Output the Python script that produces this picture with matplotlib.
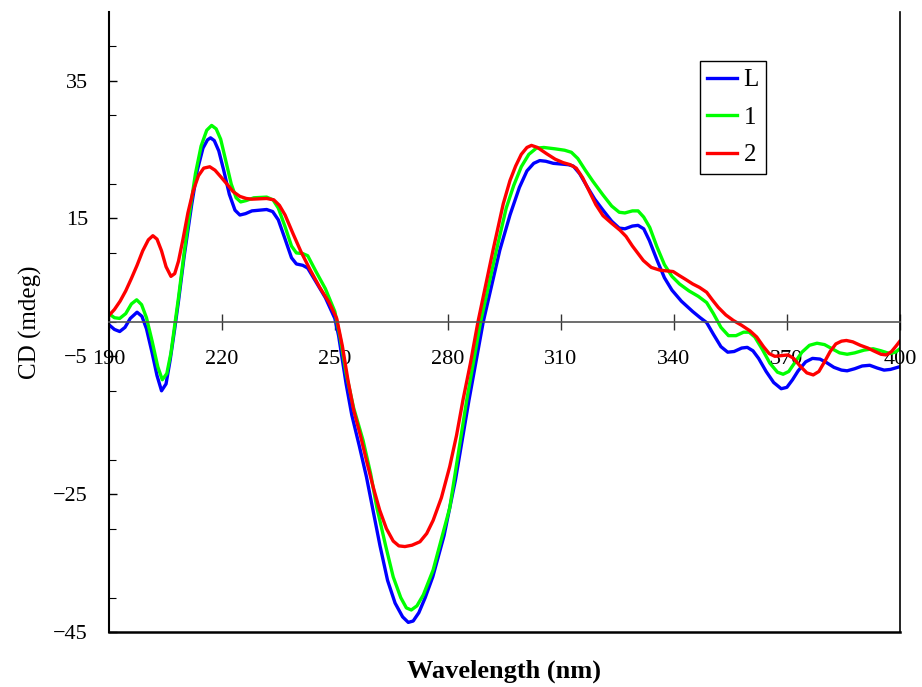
import matplotlib
matplotlib.use('Agg')
import matplotlib.pyplot as plt
from matplotlib.ticker import MultipleLocator

plt.rcParams['font.family'] = ['Liberation Serif', 'DejaVu Serif']

# CD spectra (wavelength in nm, CD in mdeg)
wl_L = [190, 191.5, 192.9, 194.3, 195.7, 197.5, 198.8, 200, 201.5, 202.8, 204, 205.2, 206.3,
        207.5, 208.5, 210, 212, 213.5, 215, 216.2, 217, 218, 219.2, 220.5, 222, 223.5,
        224.8, 226.3, 228, 231.9, 233.5, 235, 236.8, 238.5, 239.8, 241.5, 242.8, 245, 247.5,
        250, 251, 252, 253, 254.5, 256.5, 258.4, 260.2, 262, 264, 266, 268, 269.5, 270.8,
        272.3, 274, 276, 279, 282, 285.6, 289.4, 293.8, 296.5, 299, 301, 302.8, 304.4, 306,
        308, 310, 312, 313.3, 315, 317, 319, 321.2, 323.5, 325.5, 327, 329, 330.5, 332,
        333.5, 335.5, 337.5, 339.5, 342, 345, 347, 348.7, 350.5, 352.5, 354.3, 356, 358,
        359.5, 361, 362.5, 364.5, 366.5, 368.5, 370, 371.5, 373, 375, 376.8, 378.8, 380.5,
        382.5, 384.5, 386, 388, 390, 392, 394, 395.8, 397.5, 400]
cd_L = [-0.4, -1.1, -1.4, -0.8, 0.5, 1.4, 0.8, -1.0, -4.5, -7.8, -10.0, -9.0, -5.5,
        -1.0, 3.0, 9.5, 17.0, 22.0, 25.2, 26.4, 26.7, 26.3, 24.8, 22.0, 18.5, 16.2,
        15.5, 15.7, 16.1, 16.3, 16.0, 14.8, 12.0, 9.3, 8.4, 8.2, 7.8, 5.8, 3.5,
        0.5, -2.0, -5.5, -9.0, -13.5, -18.0, -22.5, -27.5, -32.5, -37.5, -40.8, -42.8, -43.6, -43.4,
        -42.2, -40.0, -37.0, -31.0, -23.0, -11.4, 0.0, 10.4, 15.5, 19.5, 21.9, 23.0, 23.4, 23.3,
        23.0, 22.9, 22.8, 22.6, 21.5, 19.6, 17.8, 16.2, 14.6, 13.6, 13.5, 13.9, 14.0, 13.5,
        11.8, 9.0, 6.4, 4.6, 3.0, 1.5, 0.6, -0.1, -1.8, -3.6, -4.4, -4.3, -3.8,
        -3.7, -4.2, -5.3, -7.2, -8.8, -9.7, -9.5, -8.4, -7.1, -5.8, -5.3, -5.4, -5.9,
        -6.6, -7.0, -7.1, -6.8, -6.4, -6.3, -6.7, -7.0, -6.9, -6.5]

wl_1 = [190, 191.5, 192.9, 194.5, 196, 197.4, 198.7, 200, 201.5, 203, 204.2, 205.4, 206.5,
        207.5, 208.5, 210, 211.5, 213, 214.5, 216, 217.3, 218.5, 219.7, 221, 222.5, 223.8,
        225, 226.5, 228.5, 231.9, 233.6, 235, 236.8, 238.5, 239.8, 241.5, 242.8, 245, 247.5,
        250, 251.5, 253, 255, 257.5, 259.5, 261.1, 263.5, 265.5, 267.5, 269, 270.3, 271.8,
        273.5, 276.1, 280.5, 285, 288.7, 292.9, 295.5, 297.5, 299.5, 301.5, 303.5, 305.5,
        308.5, 311, 312.8, 314.5, 316.5, 318.5, 321.2, 323.5, 325.5, 327, 329, 330.5, 332,
        333.6, 335.5, 337.5, 339.5, 341.5, 344, 346.5, 348.7, 350.5, 352.5, 354.5, 356.5,
        358.5, 360, 361.5, 363.5, 365.5, 367.5, 369, 370.5, 372, 374, 376, 378, 380, 382,
        384, 386, 388, 390.5, 392.9, 395, 397.3, 398.8, 400]
cd_1 = [1.2, 0.6, 0.5, 1.2, 2.6, 3.2, 2.5, 0.6, -2.8, -6.5, -8.4, -7.5, -4.5,
        -0.5, 3.5, 10.0, 16.0, 21.5, 25.5, 27.8, 28.5, 28.0, 26.5, 23.5, 20.0, 18.0,
        17.4, 17.6, 18.0, 18.1, 17.7, 16.5, 13.8, 11.0, 10.0, 9.9, 9.6, 7.3, 4.8,
        1.5, -2.5, -7.5, -12.5, -17.2, -22.0, -26.8, -32.5, -37.0, -40.0, -41.5, -41.8, -41.2,
        -39.6, -36.0, -27.0, -11.4, 0.0, 10.4, 16.5, 19.8, 22.5, 24.3, 25.2, 25.3,
        25.1, 24.9, 24.6, 23.7, 22.0, 20.4, 18.4, 16.8, 15.9, 15.8, 16.1, 16.1, 15.2,
        13.7, 10.9, 8.3, 6.6, 5.5, 4.5, 3.7, 2.8, 1.2, -0.8, -2.0, -2.0,
        -1.5, -1.5, -2.2, -4.0, -6.0, -7.3, -7.6, -7.2, -6.0, -4.4, -3.4, -3.1, -3.3, -3.9,
        -4.5, -4.7, -4.5, -4.1, -3.9, -4.2, -4.6, -4.4, -3.9]

wl_2 = [190, 191.5, 193, 194.5, 196, 197.5, 199, 200.5, 201.7, 202.8, 204, 205.2, 206.5,
        207.5, 208.5, 209.7, 211, 212.4, 213.8, 215.2, 216.8, 218.2, 219.8, 221.5, 223,
        224.8, 226.5, 228, 231.9, 233.8, 235.3, 236.8, 238.9, 241, 243.4, 246, 248.5,
        250.5, 252, 253.5, 255, 256.8, 258.4, 260.2, 261.9, 263.7, 265.5, 267, 268.6, 270.5,
        272.6, 274.4, 276.1, 278.3, 280.5, 282.3, 284, 286, 288, 292, 294.7, 296.5, 298,
        299.5, 301, 302.2, 303.8, 306.2, 308.5, 310.6, 312.5, 314.1, 315.8, 317.5, 319.3,
        321.2, 323.5, 325.7, 327.3, 329, 331.9, 334, 336.3, 338, 339.8, 341.5, 343, 345,
        346.8, 348.7, 350.2, 351.8, 353.8, 355.8, 358, 360.2, 362, 363.8, 365.3, 366.8,
        368.5, 370.3, 371.8, 373.5, 375.3, 377, 378.5, 380, 381.5, 383, 384.5, 385.8,
        387.5, 389.5, 391.5, 393, 395, 396.4, 397.8, 399, 400]
cd_2 = [0.9, 1.8, 3.0, 4.5, 6.3, 8.2, 10.3, 11.9, 12.5, 12.0, 10.3, 8.0, 6.6,
        7.0, 8.8, 12.0, 15.8, 19.0, 21.2, 22.3, 22.5, 22.0, 21.0, 19.9, 18.9,
        18.2, 17.9, 17.8, 17.9, 17.7, 16.9, 15.5, 12.8, 10.2, 7.6, 5.0, 2.8,
        0.5, -3.5, -8.5, -12.8, -16.5, -20.1, -24.0, -27.3, -30.0, -31.8, -32.5, -32.6, -32.4,
        -31.9, -30.7, -28.8, -25.5, -21.0, -16.5, -11.4, -6.0, 0.0, 10.4, 17.1, 20.5, 22.6,
        24.3, 25.3, 25.6, 25.3, 24.4, 23.6, 23.1, 22.8, 22.3, 20.9, 19.0, 17.0,
        15.4, 14.3, 13.3, 12.4, 11.0, 8.9, 7.9, 7.5, 7.4, 7.3, 6.7, 6.2, 5.5,
        5.0, 4.3, 3.2, 2.1, 1.0, 0.2, -0.5, -1.3, -2.2, -3.6, -4.6, -5.0,
        -4.9, -4.8, -5.3, -6.4, -7.4, -7.7, -7.2, -5.8, -4.3, -3.2, -2.8, -2.7,
        -2.9, -3.4, -3.8, -4.2, -4.7, -4.8, -4.3, -3.5, -2.8]

fig = plt.figure(figsize=(9.22, 6.87), dpi=100)
ax = fig.add_axes([0.118, 0.080, 0.858, 0.903])

ax.plot(wl_L, cd_L, color='#0000FF', lw=2.4, label='L', solid_joinstyle='round')
ax.plot(wl_1, cd_1, color='#00FF00', lw=2.4, label='1', solid_joinstyle='round')
ax.plot(wl_2, cd_2, color='#FF0000', lw=2.4, label='2', solid_joinstyle='round')

ax.set_xlim(190, 400)
ax.set_ylim(-45, 45)

# x axis runs through zero, frame bottom drawn at -45
ax.spines['top'].set_visible(False)
ax.spines['bottom'].set_position(('data', 0))
ax.spines['bottom'].set_color('#555555')
ax.spines['bottom'].set_linewidth(1.2)
ax.spines['left'].set_linewidth(1.5)
ax.spines['right'].set_linewidth(1.2)
ax.axhline(-45, color='black', lw=1.8, clip_on=False)

ax.set_xticks(range(190, 401, 30))
ax.tick_params(axis='x', direction='inout', length=12, width=1, color='#333333',
               pad=14, labelsize=16)
ax.set_yticks([-45, -25, -5, 15, 35])
ax.yaxis.set_minor_locator(MultipleLocator(10))
ax.tick_params(axis='y', which='major', direction='in', length=6, width=1,
               pad=15, labelsize=16)
ax.tick_params(axis='y', which='minor', direction='in', length=5, width=0.8)

ax.set_xlabel('Wavelength (nm)', fontsize=19, fontweight='bold')
ax.xaxis.set_label_coords(0.5, -0.045)
ax.set_ylabel('CD (mdeg)', fontsize=18)
ax.yaxis.set_label_coords(-0.085, 0.5)

leg = ax.legend(loc='upper left', bbox_to_anchor=(0.747, 0.92), borderaxespad=0,
                fontsize=18, handlelength=1.2, handletextpad=0.25, labelspacing=0.6,
                borderpad=0.3, fancybox=False, framealpha=1, edgecolor='black')
leg.get_frame().set_linewidth(1.0)

fig.savefig('out.png', dpi=100)
